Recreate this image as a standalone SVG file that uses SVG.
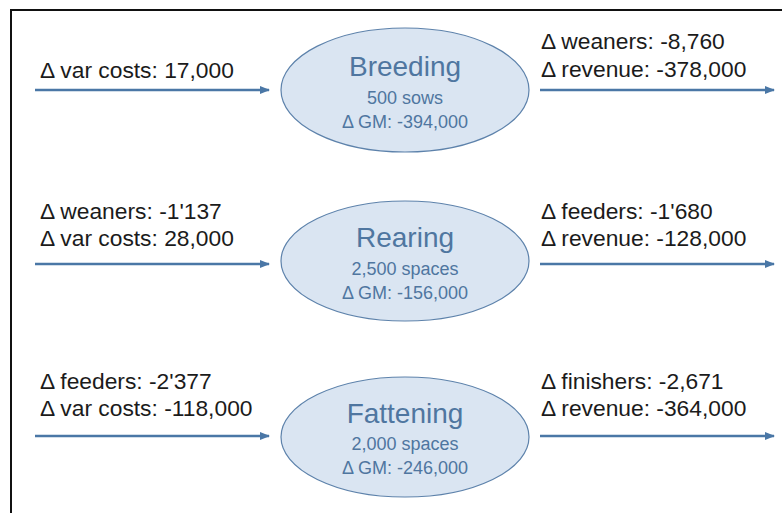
<svg xmlns="http://www.w3.org/2000/svg" width="782" height="513" viewBox="0 0 782 513">
<defs>
<marker id="ah" markerWidth="10" markerHeight="10" refX="9" refY="5" orient="auto" markerUnits="userSpaceOnUse">
<path d="M0,1 L10,5 L0,9 Z" fill="#4a77a6"/>
</marker>
<style>
.lbl{font-family:"Liberation Sans",Arial,sans-serif;font-size:22.8px;fill:#1b1b1b}
.ttl{font-family:"Liberation Sans",Arial,sans-serif;font-size:28px;fill:#4f76a0;text-anchor:middle}
.sub{font-family:"Liberation Sans",Arial,sans-serif;font-size:18px;fill:#4f76a0;text-anchor:middle}
.node{fill:#dae5f2;stroke:#5d82ab;stroke-width:1.2}
.arr{stroke:#4a77a6;stroke-width:2.5;fill:none;marker-end:url(#ah)}
</style>
</defs>
<rect x="0" y="0" width="782" height="513" fill="#ffffff"/>
<rect x="11" y="10" width="800" height="540" fill="none" stroke="#111111" stroke-width="2"/>
<g id="connectors">
<line class="arr" x1="35" y1="90" x2="269" y2="90"/>
<line class="arr" x1="540" y1="90" x2="774" y2="90"/>
<line class="arr" x1="35" y1="264" x2="269" y2="264"/>
<line class="arr" x1="540" y1="264" x2="774" y2="264"/>
<line class="arr" x1="35" y1="436" x2="269" y2="436"/>
<line class="arr" x1="540" y1="436" x2="774" y2="436"/>
</g>
<g id="labels">
<text class="lbl" x="40" y="78">Δ var costs: 17,000</text>
<text class="lbl" x="541" y="49">Δ weaners: -8,760</text>
<text class="lbl" x="541" y="77">Δ revenue: -378,000</text>
<text class="lbl" x="40" y="219">Δ weaners: -1'137</text>
<text class="lbl" x="40" y="246">Δ var costs: 28,000</text>
<text class="lbl" x="541" y="219">Δ feeders: -1'680</text>
<text class="lbl" x="541" y="246">Δ revenue: -128,000</text>
<text class="lbl" x="40" y="389">Δ feeders: -2'377</text>
<text class="lbl" x="40" y="416">Δ var costs: -118,000</text>
<text class="lbl" x="541" y="389">Δ finishers: -2,671</text>
<text class="lbl" x="541" y="416">Δ revenue: -364,000</text>
</g>
<g id="breeding">
<ellipse class="node" cx="405" cy="90" rx="124" ry="62"/>
<text class="ttl" x="405" y="76">Breeding</text>
<text class="sub" x="405" y="104">500 sows</text>
<text class="sub" x="405" y="128">Δ GM: -394,000</text>
</g>
<g id="rearing">
<ellipse class="node" cx="405" cy="261" rx="124" ry="60"/>
<text class="ttl" x="405" y="247">Rearing</text>
<text class="sub" x="405" y="275">2,500 spaces</text>
<text class="sub" x="405" y="299">Δ GM: -156,000</text>
</g>
<g id="fattening">
<ellipse class="node" cx="405" cy="437" rx="124" ry="60"/>
<text class="ttl" x="405" y="423">Fattening</text>
<text class="sub" x="405" y="450">2,000 spaces</text>
<text class="sub" x="405" y="474">Δ GM: -246,000</text>
</g>
</svg>
